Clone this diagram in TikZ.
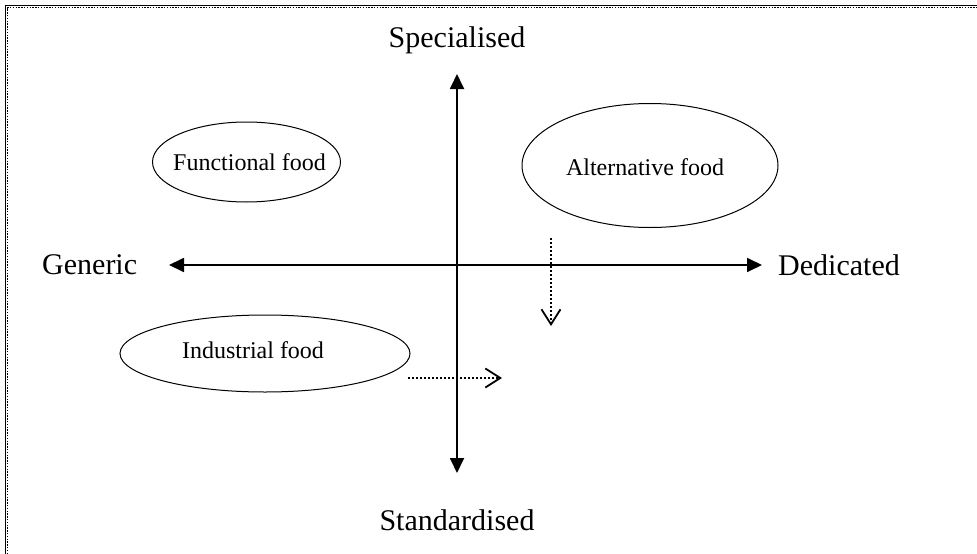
\documentclass[tikz,border=0pt]{standalone}
\usepackage{fontspec}
\setmainfont{Liberation Serif}
\usetikzlibrary{arrows.meta,shapes.geometric}
\tikzset{
  axis/.style={line width=1.8pt, {Triangle[length=15pt,width=14pt]}-{Triangle[length=15pt,width=14pt]}},
  bigtxt/.style={font=\fontsize{30}{34}\selectfont, inner sep=0pt},
  oval/.style={draw, ellipse, line width=1pt, inner sep=0pt},
  ovaltxt/.style={font=\fontsize{24}{28}\selectfont, inner sep=0pt},
  dotarrow/.style={line width=1.6pt, dash pattern=on 1.6pt off 2.4pt, -{Straight Barb[length=15pt,width=19pt,line width=1.8pt]}},
  framesolid/.style={line width=1.2pt},
  framedots/.style={line width=1.6pt, dash pattern=on 1.4pt off 1.4pt}
}
\begin{document}
\begin{tikzpicture}[x=1pt,y=-1pt]
\useasboundingbox (0,0) rectangle (977,554);
\fill[white] (0,0) rectangle (977,554);
% frame (left and top edges visible)
\draw[framesolid] (5.6,554) -- (5.6,5.6) -- (977,5.6);
\draw[framedots] (7.6,554) -- (7.6,7.6) -- (977,7.6);
% axis ends
\coordinate (top) at (457,74);
\coordinate (bot) at (457,473);
\coordinate (lft) at (169,265);
\coordinate (rgt) at (762,265);
\draw[axis] (bot) -- (top);
\draw[axis] (lft) -- (rgt);
% axis labels
\node[bigtxt] (spec) at (457,40) {Specialised};
\node[bigtxt] (stand) at (457,520) {Standardised};
\node[bigtxt, anchor=west] (gen) at (42,265) {Generic};
\node[bigtxt, anchor=west] (ded) at (778,265) {Dedicated};
% ellipses
\node[oval, minimum width=188pt, minimum height=80pt] (func) at (246.5,162) {};
\node[oval, minimum width=256pt, minimum height=124pt] (alt) at (650,165.5) {};
\node[oval, minimum width=290pt, minimum height=77pt] (ind) at (265,353.5) {};
\node[ovaltxt] (functxt) at ([xshift=3pt]func.center) {Functional food};
\node[ovaltxt] (alttxt) at ([xshift=-5pt,yshift=-2pt]alt.center) {Alternative food};
\node[ovaltxt] (indtxt) at ([xshift=-12pt,yshift=3pt]ind.center) {Industrial food};
% dotted arrows
\coordinate (dA) at (551,238);
\coordinate (dB) at (551,326);
\draw[dotarrow] (dA) -- (dB);
\coordinate (hA) at (408,378);
\coordinate (hB) at (502,378);
\draw[dotarrow] (hA) -- (hB);
\end{tikzpicture}
\end{document}
